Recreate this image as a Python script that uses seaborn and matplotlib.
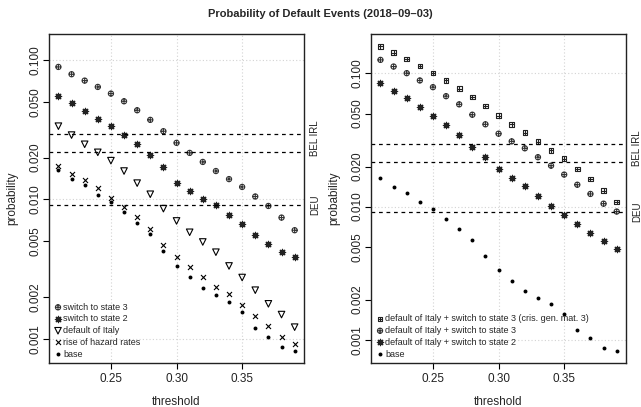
import numpy as np
import matplotlib
matplotlib.use("Agg")
import matplotlib.pyplot as plt
from matplotlib.path import Path
from matplotlib.ticker import FixedLocator, NullLocator
import seaborn as sns

# thresholds
threshold = [0.21, 0.22, 0.23, 0.24, 0.25, 0.26, 0.27, 0.28, 0.29, 0.30,
             0.31, 0.32, 0.33, 0.34, 0.35, 0.36, 0.37, 0.38, 0.39]

# left panel
switch_state3 = [0.0895, 0.0793, 0.0714, 0.0643, 0.0576, 0.0507, 0.0437, 0.0373, 0.0309, 0.0255,
                 0.0216, 0.0186, 0.0160, 0.0140, 0.0123, 0.0105, 0.00898, 0.00741, 0.00601]
switch_state2 = [0.0551, 0.0489, 0.0432, 0.0381, 0.0336, 0.0292, 0.0252, 0.0210, 0.0171, 0.0132,
                 0.01145, 0.0101, 0.00908, 0.00771, 0.00664, 0.00560, 0.00480, 0.00416, 0.00383]
default_italy = [0.0336, 0.0290, 0.0249, 0.0218, 0.0190, 0.0160, 0.0131, 0.0109, 0.00859, 0.00701,
                 0.00581, 0.00495, 0.00418, 0.00333, 0.00275, 0.00223, 0.00178, 0.00149, 0.00121]
rise_hazard = [0.0174, 0.0152, 0.0137, 0.0120, 0.0103, 0.00883, 0.00745, 0.00611, 0.00469, 0.00383,
               0.00328, 0.00279, 0.00237, 0.00211, 0.00175, 0.00146, 0.00123, 0.00103, 0.000916]
base = [0.0164, 0.0140, 0.0126, 0.0108, 0.00955, 0.00813, 0.00678, 0.00562, 0.00425, 0.00333,
        0.00277, 0.00231, 0.00205, 0.00184, 0.00155, 0.00119, 0.00103, 0.000871, 0.000817]

# right panel
italy_state3_crisis = [0.160, 0.1437, 0.128, 0.114, 0.1005, 0.0886, 0.0767, 0.0664, 0.0569, 0.0481,
                       0.0415, 0.0359, 0.0307, 0.0265, 0.0229, 0.0192, 0.0161, 0.0132, 0.0108]
italy_state3 = [0.1265, 0.1127, 0.1005, 0.0886, 0.0789, 0.0675, 0.0586, 0.0490, 0.0415, 0.0353,
                0.0309, 0.0274, 0.0235, 0.0203, 0.0174, 0.0146, 0.01245, 0.01052, 0.00918]
italy_state2 = [0.0846, 0.0737, 0.0649, 0.0559, 0.0481, 0.0409, 0.0344, 0.0282, 0.0235, 0.0193,
                0.0165, 0.0142, 0.0121, 0.0101, 0.00867, 0.00746, 0.00638, 0.00547, 0.00482]

# country reference levels
levels = [0.0293, 0.0218, 0.0091]
level_labels = [("BEL IRL", 0.0277), ("DEU", 0.0091)]

yticks = [0.001, 0.002, 0.005, 0.010, 0.020, 0.050, 0.100]
ytick_labels = ["0.001", "0.002", "0.005", "0.010", "0.020", "0.050", "0.100"]
xticks = [0.25, 0.30, 0.35]

sns.set_style("white")
plt.rcParams['font.family'] = ['Liberation Sans', 'DejaVu Sans']

# marker shapes like R's pch 10 and 12
plus = Path([(-1, 0), (1, 0), (0, -1), (0, 1)],
            [Path.MOVETO, Path.LINETO, Path.MOVETO, Path.LINETO])
circle_plus = Path.make_compound_path(Path.unit_circle(), plus)
square = Path([(-1, -1), (1, -1), (1, 1), (-1, 1), (-1, -1)],
              [Path.MOVETO, Path.LINETO, Path.LINETO, Path.LINETO, Path.CLOSEPOLY])
box_plus = Path.make_compound_path(square, plus)


def draw(ax, y, kind, label):
    if kind == "cplus":
        sns.scatterplot(x=threshold, y=y, marker=circle_plus, s=14, facecolor="none",
                        edgecolor="#333333", linewidth=0.8, label=label, ax=ax)
    elif kind == "bplus":
        sns.scatterplot(x=threshold, y=y, marker=box_plus, s=11, facecolor="none",
                        edgecolor="#222222", linewidth=0.8, label=label, ax=ax)
    elif kind == "star":
        sns.scatterplot(x=threshold, y=y, marker=(8, 2, 0), s=20, color="#222222",
                        linewidth=0.9, label=label, ax=ax)
    elif kind == "tri":
        sns.scatterplot(x=threshold, y=y, marker="v", s=22, facecolor="none",
                        edgecolor="black", linewidth=0.8, label=label, ax=ax)
    elif kind == "x":
        sns.scatterplot(x=threshold, y=y, marker="x", s=13, color="black",
                        linewidth=0.8, label=label, ax=ax)
    else:
        sns.scatterplot(x=threshold, y=y, marker="o", s=8, color="black",
                        edgecolor="black", linewidth=0, label=label, ax=ax)


def style(ax, ytop):
    ax.set_yscale("log")
    ax.set_xlim(0.2028, 0.3972)
    ax.set_ylim(10 ** -3.175, ytop)
    ax.yaxis.set_major_locator(FixedLocator(yticks))
    ax.yaxis.set_minor_locator(NullLocator())
    ax.set_yticks(yticks, ytick_labels)
    ax.set_xticks(xticks, ["0.25", "0.30", "0.35"])
    for t in ax.get_yticklabels():
        t.set_rotation(90)
        t.set_va("center")
    ax.tick_params(axis="both", direction="out", length=4, width=0.8,
                   labelsize=8.5, color="black", labelcolor="#222222", left=True, bottom=True)
    ax.tick_params(axis="y", pad=1.5)
    ax.tick_params(axis="x", pad=3)
    for g in [0.001, 0.01, 0.1]:
        ax.axhline(g, color="#d3d3d3", linestyle=(0, (1, 2)), linewidth=0.8, zorder=0)
    for g in xticks:
        ax.axvline(g, color="#d3d3d3", linestyle=(0, (1, 2)), linewidth=0.8, zorder=0)
    for lv in levels:
        ax.axhline(lv, color="black", linestyle=(0, (3, 3)), linewidth=0.9, zorder=1)
    for txt, yv in level_labels:
        ax.text(1.042, yv, txt, rotation=90, ha="center", va="center", fontsize=7,
                color="#222222", transform=ax.get_yaxis_transform())
    for sp in ax.spines.values():
        sp.set_color("#222222")
        sp.set_linewidth(1.0)
    ax.set_xlabel("threshold", fontsize=8.5)
    ax.set_ylabel("probability", fontsize=8.5)
    ax.xaxis.set_label_coords(0.5, -0.118)
    ax.xaxis.label.set_va("center")
    ax.yaxis.set_label_coords(-0.145, 0.5)
    ax.yaxis.label.set_va("center")
    ax.legend(loc="lower left", frameon=False, fontsize=6.5, handletextpad=0.1,
              borderaxespad=0.2, labelspacing=0.3, handlelength=1.0, borderpad=0.3)


fig = plt.figure(figsize=(6.41, 4.07), dpi=100)
ax1 = fig.add_axes([0.0764, 0.108, 0.398, 0.808])
ax2 = fig.add_axes([0.5788, 0.108, 0.398, 0.808])

draw(ax1, switch_state3, "cplus", "switch to state 3")
draw(ax1, switch_state2, "star", "switch to state 2")
draw(ax1, default_italy, "tri", "default of Italy")
draw(ax1, rise_hazard, "x", "rise of hazard rates")
draw(ax1, base, "dot", "base")
style(ax1, 10 ** -0.813)

draw(ax2, italy_state3_crisis, "bplus", "default of Italy + switch to state 3 (cris. gen. mat. 3)")
draw(ax2, italy_state3, "cplus", "default of Italy + switch to state 3")
draw(ax2, italy_state2, "star", "default of Italy + switch to state 2")
draw(ax2, base, "dot", "base")
style(ax2, 10 ** -0.705)

fig.suptitle("Probability of Default Events (2018\u201309\u201303)", fontsize=8,
             fontweight="bold", y=0.965, va="center")

fig.savefig("out.png", dpi=100)
